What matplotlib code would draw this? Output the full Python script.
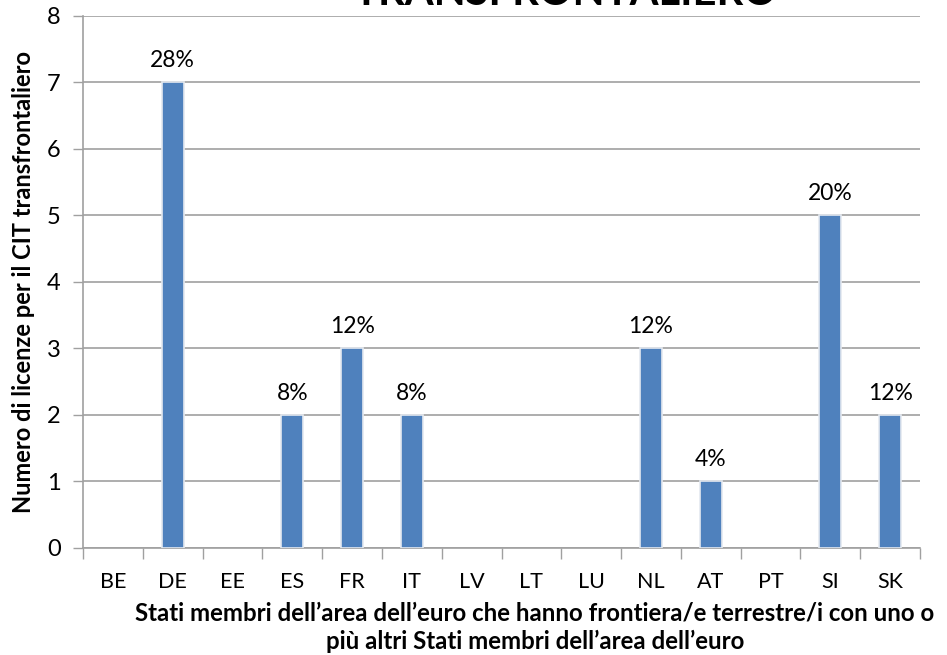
import matplotlib.pyplot as plt
import numpy as np

# Stati membri e numero di licenze CIT transfrontaliero
paesi = ['BE', 'DE', 'EE', 'ES', 'FR', 'IT', 'LV', 'LT', 'LU', 'NL', 'AT', 'PT', 'SI', 'SK']
licenze = [0, 7, 0, 2, 3, 2, 0, 0, 0, 3, 1, 0, 5, 2]
etichette = ['', '28%', '', '8%', '12%', '8%', '', '', '', '12%', '4%', '', '20%', '12%']

plt.rcParams['font.family'] = ['Lato', 'DejaVu Sans']

fig = plt.figure(figsize=(9.47, 6.55), dpi=100)
ax = fig.add_axes([0.0877, 0.1634, 0.8838, 0.8122])

x = np.arange(len(paesi))
bars = ax.bar(x, licenze, width=0.37, color='#4f81bd', edgecolor='#e4e9f0',
              linewidth=[1.2 if v else 0 for v in licenze], zorder=3)

for b, lab in zip(bars, etichette):
    if lab:
        ax.annotate(lab, (b.get_x() + b.get_width() / 2, b.get_height()),
                    xytext=(0, 8), textcoords='offset points',
                    ha='center', va='bottom', fontsize=16.5)

ax.set_xlim(-0.5, len(paesi) - 0.5)
ax.set_ylim(0, 8)
ax.set_yticks(range(0, 9))
ax.set_xticks(x)
ax.set_xticklabels(paesi, fontsize=15.5)
ax.set_xticks(np.arange(-0.5, len(paesi)), minor=True)
ax.tick_params(axis='x', which='major', length=0, pad=17)
ax.tick_params(axis='x', which='minor', length=8, color='#a0a0a0', width=1)
ax.tick_params(axis='y', labelsize=17, length=7, color='#a0a0a0', width=1, pad=9)

ax.grid(axis='y', color='#a0a0a0', linewidth=1.2, zorder=0)
for s in ['top', 'right']:
    ax.spines[s].set_visible(False)
for s in ['left', 'bottom']:
    ax.spines[s].set_color('#a0a0a0')
    ax.spines[s].set_linewidth(1.2)

ax.set_ylabel('Numero di licenze per il CIT transfrontaliero', fontsize=17,
              fontweight='bold')
ax.yaxis.set_label_coords(-0.057, 0.5, transform=ax.transAxes)
ax.set_xlabel("Stati membri dell\u2019area dell\u2019euro che hanno frontiera/e terrestre/i con uno o\n"
              "pi\u00f9 altri Stati membri dell\u2019area dell\u2019euro",
              fontsize=17.3, fontweight='bold', linespacing=1.3)
ax.xaxis.set_label_coords(0.54, -0.1, transform=ax.transAxes)
ax.xaxis.label.set_va('top')

fig.text(0.597, 0.993, 'TRANSFRONTALIERO', ha='center', va='baseline',
         fontsize=30, fontweight='bold')

fig.savefig('out.png', dpi=100)
